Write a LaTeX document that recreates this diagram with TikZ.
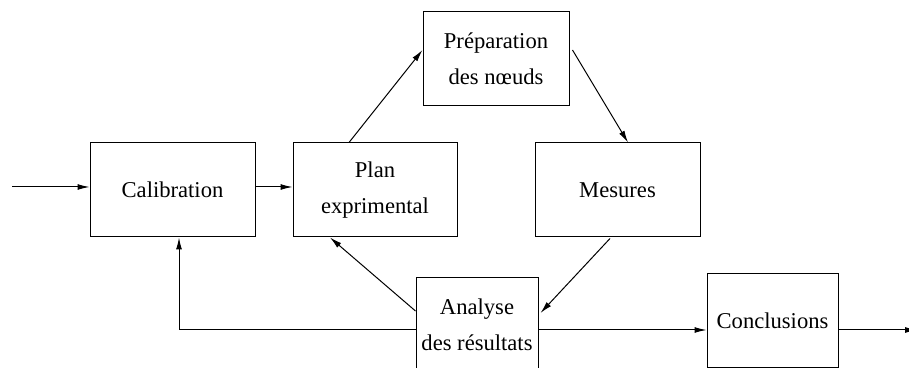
\documentclass[tikz,border=0pt]{standalone}
\usepackage{fontspec}
\setmainfont{Liberation Serif}
\usetikzlibrary{calc,arrows.meta}
\begin{document}
\begin{tikzpicture}[x=0.5pt,y=-0.5pt,
  box/.style={draw,line width=0.5pt,inner sep=0pt,minimum height=47pt,align=center,
    font=\fontsize{11.3}{18}\selectfont},
  arr/.style={line width=0.5pt,-{Latex[length=6pt,width=3pt]}}]
\clip (0,0) rectangle (909,368);
\node[box,minimum width=82.5pt] (cal) at (172.5,190) {Calibration};
\node[box,minimum width=82pt] (plan) at (375,190) {Plan\\exprimental};
\node[box,minimum width=73pt] (prep) at (496,59) {Préparation\\des nœuds};
\node[box,minimum width=82.5pt] (mes) at (617.5,190) {Mesures};
\node[box,minimum width=61pt] (ana) at (477,325) {Analyse\\des résultats};
\node[box,minimum width=65.5pt,minimum height=46.5pt] (con) at (772.5,320.5) {Conclusions};
\coordinate (in) at (12,187);
\coordinate (out) at (917,330);
\draw[arr] (in) -- ($(cal.west)+(0,-3)$);
\draw[arr] ($(cal.east)+(0,-3)$) -- ($(plan.west)+(0,-3)$);
\draw[arr] ($(plan.north)+(-26,0)$) -- ($(prep.west)+(0,-9)$);
\draw[arr] ($(prep.east)+(3,-9)$) -- ($(mes.north)+(10.5,0)$);
\draw[arr] ($(mes.south)+(-7.5,1)$) -- ($(ana.east)+(2,-12)$);
\draw[arr] ($(ana.west)+(0,-14)$) -- ($(plan.south)+(-45,0)$);
\draw[arr] ($(ana.west)+(0,5)$) -| ($(cal.south)+(6.5,0)$);
\draw[arr] ($(ana.east)+(0,5)$) -- ($(con.west)+(0,9.5)$);
\draw[arr] ($(con.east)+(0,9.5)$) -- (out);
\end{tikzpicture}
\end{document}
